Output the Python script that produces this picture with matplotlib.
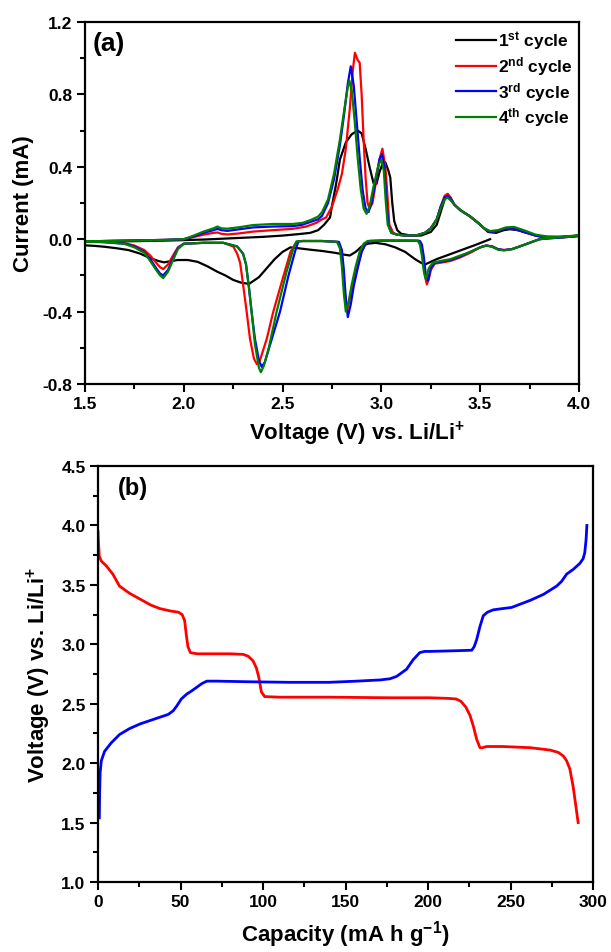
import matplotlib
matplotlib.use("Agg")
import matplotlib.pyplot as plt
from matplotlib.ticker import MultipleLocator

plt.rcParams.update({
    "font.family": ["Liberation Sans", "DejaVu Sans"],
    "font.weight": "bold",
    "axes.labelweight": "bold",
    "axes.unicode_minus": False,
    "mathtext.fontset": "custom",
    "mathtext.rm": "Liberation Sans:bold",
    "mathtext.it": "Liberation Sans:bold",
    "mathtext.bf": "Liberation Sans:bold",
    "mathtext.default": "rm",
})

# ---------------- cyclic voltammetry (panel a) ----------------
# cycle 1: starts at open-circuit, sweeps down to 1.5 V, then up to 4.0 V
c1_v = [3.55, 3.48, 3.43, 3.38, 3.33, 3.28, 3.24, 3.22, 3.20, 3.17, 3.12, 3.07, 3.02, 2.97,
        2.93, 2.90, 2.87, 2.84, 2.81, 2.77, 2.70, 2.64, 2.58, 2.54, 2.50, 2.46, 2.42, 2.38,
        2.33, 2.29, 2.25, 2.21, 2.17, 2.12, 2.07, 2.02, 1.97, 1.93, 1.90, 1.87, 1.83, 1.78,
        1.72, 1.66, 1.60, 1.55, 1.50,
        1.50, 1.60, 1.70, 1.80, 1.90, 2.00, 2.10, 2.20, 2.30, 2.40, 2.50, 2.58, 2.64, 2.68,
        2.71, 2.74, 2.75, 2.77, 2.79, 2.82, 2.85, 2.88, 2.90, 2.92, 2.94, 2.96, 2.975, 2.99,
        3.005, 3.02, 3.035, 3.045, 3.055, 3.065, 3.08, 3.10, 3.15, 3.20, 3.25, 3.28, 3.30,
        3.32, 3.335, 3.35, 3.37, 3.40, 3.45, 3.50, 3.54, 3.58, 3.62, 3.65, 3.69, 3.74, 3.80,
        3.86, 3.92, 4.00]
c1_i = [0.0, -0.03, -0.05, -0.07, -0.09, -0.11, -0.13, -0.14, -0.13, -0.11, -0.07, -0.045,
        -0.028, -0.02, -0.025, -0.04, -0.07, -0.09, -0.085, -0.076, -0.065, -0.058, -0.05,
        -0.045, -0.07, -0.11, -0.16, -0.21, -0.247, -0.24, -0.225, -0.2, -0.18, -0.15, -0.125,
        -0.115, -0.115, -0.122, -0.128, -0.12, -0.105, -0.08, -0.06, -0.05, -0.042, -0.037,
        -0.034,
        -0.015, -0.013, -0.012, -0.01, -0.008, -0.005, -0.002, 0.003, 0.008, 0.013, 0.02,
        0.028, 0.035, 0.05, 0.08, 0.12, 0.185, 0.30, 0.44, 0.535, 0.58, 0.60, 0.585, 0.50,
        0.40, 0.31, 0.305, 0.37, 0.415, 0.425, 0.38, 0.34, 0.20, 0.10, 0.05, 0.03, 0.02, 0.02,
        0.04, 0.08, 0.15, 0.22, 0.25, 0.23, 0.19, 0.16, 0.125, 0.08, 0.04, 0.035, 0.05, 0.055,
        0.05, 0.035, 0.015, 0.01, 0.012, 0.018]

# cycle 2: anodic sweep 1.5 -> 4.0 V, then cathodic 4.0 -> 1.5 V
c2_v = [1.50, 1.60, 1.70, 1.80, 1.90, 2.00, 2.05, 2.10, 2.15, 2.17, 2.19, 2.22, 2.28, 2.35,
        2.45, 2.55, 2.62, 2.67, 2.70, 2.72, 2.75, 2.78, 2.80, 2.82, 2.84, 2.855, 2.866, 2.88,
        2.89, 2.90, 2.91, 2.92, 2.93, 2.94, 2.955, 2.97, 2.99, 3.005, 3.02, 3.03, 3.04, 3.06,
        3.08, 3.12, 3.18, 3.22, 3.25, 3.28, 3.30, 3.32, 3.335, 3.35, 3.37, 3.40, 3.45, 3.49,
        3.52, 3.55, 3.59, 3.63, 3.67, 3.72, 3.78, 3.84, 3.90, 3.95, 4.00,
        4.00, 3.92, 3.85, 3.80, 3.75, 3.70, 3.66, 3.62, 3.59, 3.56, 3.53, 3.50, 3.45, 3.40,
        3.35, 3.30, 3.27, 3.25, 3.24, 3.23, 3.22, 3.21, 3.20, 3.19, 3.10, 3.00, 2.94, 2.92,
        2.90, 2.88, 2.86, 2.84, 2.827, 2.815, 2.805, 2.795, 2.78, 2.70, 2.60, 2.575, 2.563,
        2.54, 2.50, 2.453, 2.42, 2.385, 2.37, 2.355, 2.335, 2.318, 2.30, 2.285, 2.27, 2.25,
        2.20, 2.10, 2.00, 1.97, 1.94, 1.92, 1.896, 1.88, 1.86, 1.83, 1.80, 1.75, 1.70, 1.60,
        1.50]
c2_i = [-0.012, -0.01, -0.008, -0.006, -0.004, 0.0, 0.012, 0.025, 0.035, 0.037, 0.03, 0.026,
        0.032, 0.042, 0.05, 0.057, 0.07, 0.09, 0.11, 0.12, 0.18, 0.28, 0.36, 0.50, 0.72, 0.93,
        1.03, 0.99, 0.975, 0.80, 0.55, 0.34, 0.20, 0.17, 0.20, 0.30, 0.44, 0.50, 0.40, 0.25,
        0.08, 0.035, 0.025, 0.02, 0.022, 0.035, 0.06, 0.11, 0.18, 0.24, 0.25, 0.225, 0.19,
        0.16, 0.125, 0.09, 0.06, 0.04, 0.045, 0.06, 0.058, 0.04, 0.02, 0.012, 0.012, 0.015,
        0.02,
        0.018, 0.01, 0.005, 0.0, -0.02, -0.04, -0.055, -0.06, -0.055, -0.04, -0.035, -0.045,
        -0.075, -0.1, -0.12, -0.13, -0.135, -0.17, -0.22, -0.25, -0.2, -0.1, -0.03, -0.01,
        -0.008, -0.008, -0.01, -0.025, -0.07, -0.15, -0.24, -0.33, -0.395, -0.3, -0.15, -0.05,
        -0.015, -0.01, -0.01, -0.013, -0.027, -0.07, -0.22, -0.40, -0.55, -0.67, -0.69, -0.66,
        -0.55, -0.40, -0.25, -0.13, -0.08, -0.04, -0.02, -0.02, -0.025, -0.045, -0.1, -0.14,
        -0.165, -0.155, -0.13, -0.09, -0.06, -0.035, -0.022, -0.015, -0.012]

# cycle 3
c3_v = [1.50, 1.70, 1.90, 2.00, 2.05, 2.10, 2.15, 2.17, 2.19, 2.22, 2.28, 2.35, 2.45, 2.55,
        2.60, 2.64, 2.68, 2.70, 2.73, 2.76, 2.79, 2.81, 2.83, 2.845, 2.86, 2.875, 2.89, 2.905,
        2.92, 2.935, 2.95, 2.97, 2.99, 3.003, 3.015, 3.025, 3.035, 3.05, 3.08, 3.12, 3.18,
        3.22, 3.25, 3.28, 3.30, 3.32, 3.335, 3.35, 3.37, 3.40, 3.45, 3.49, 3.52, 3.55, 3.59,
        3.63, 3.67, 3.72, 3.78, 3.84, 3.90, 3.95, 4.00,
        4.00, 3.92, 3.85, 3.80, 3.75, 3.70, 3.66, 3.62, 3.59, 3.56, 3.53, 3.50, 3.45, 3.40,
        3.35, 3.30, 3.27, 3.25, 3.235, 3.225, 3.215, 3.205, 3.195, 3.185, 3.10, 3.00, 2.94,
        2.92, 2.90, 2.88, 2.86, 2.845, 2.83, 2.82, 2.81, 2.80, 2.785, 2.70, 2.60, 2.58, 2.565,
        2.53, 2.487, 2.44, 2.41, 2.394, 2.38, 2.36, 2.343, 2.33, 2.315, 2.30, 2.27, 2.20, 2.10,
        2.00, 1.97, 1.94, 1.92, 1.896, 1.88, 1.86, 1.83, 1.80, 1.75, 1.70, 1.60, 1.50]
c3_i = [-0.012, -0.008, -0.004, 0.0, 0.015, 0.035, 0.05, 0.057, 0.05, 0.046, 0.055, 0.065,
        0.07, 0.072, 0.08, 0.095, 0.11, 0.13, 0.20, 0.33, 0.52, 0.68, 0.86, 0.955, 0.85, 0.65,
        0.45, 0.27, 0.17, 0.15, 0.20, 0.32, 0.44, 0.47, 0.40, 0.22, 0.08, 0.035, 0.025, 0.02,
        0.022, 0.035, 0.06, 0.11, 0.18, 0.23, 0.24, 0.22, 0.19, 0.16, 0.125, 0.09, 0.06, 0.04,
        0.045, 0.06, 0.058, 0.04, 0.02, 0.012, 0.012, 0.015, 0.02,
        0.018, 0.01, 0.005, 0.0, -0.02, -0.04, -0.055, -0.06, -0.055, -0.04, -0.035, -0.045,
        -0.07, -0.095, -0.115, -0.125, -0.13, -0.16, -0.23, -0.2, -0.1, -0.03, -0.01, -0.008,
        -0.008, -0.008, -0.01, -0.025, -0.07, -0.16, -0.26, -0.36, -0.43, -0.33, -0.17, -0.06,
        -0.015, -0.01, -0.01, -0.012, -0.06, -0.2, -0.40, -0.57, -0.68, -0.705, -0.67, -0.55,
        -0.40, -0.27, -0.14, -0.08, -0.04, -0.02, -0.02, -0.025, -0.05, -0.12, -0.17, -0.20,
        -0.19, -0.16, -0.11, -0.07, -0.04, -0.024, -0.016, -0.012]

# cycle 4
c4_v = [1.50, 1.70, 1.90, 2.00, 2.05, 2.10, 2.15, 2.17, 2.19, 2.22, 2.28, 2.35, 2.45, 2.55,
        2.60, 2.64, 2.68, 2.70, 2.73, 2.76, 2.79, 2.81, 2.83, 2.838, 2.85, 2.865, 2.88, 2.895,
        2.91, 2.925, 2.94, 2.96, 2.985, 3.00, 3.012, 3.022, 3.032, 3.05, 3.08, 3.12, 3.18,
        3.22, 3.25, 3.28, 3.30, 3.32, 3.335, 3.35, 3.37, 3.40, 3.45, 3.49, 3.52, 3.55, 3.59,
        3.63, 3.67, 3.72, 3.78, 3.84, 3.90, 3.95, 4.00,
        4.00, 3.92, 3.85, 3.80, 3.75, 3.70, 3.66, 3.62, 3.59, 3.56, 3.53, 3.50, 3.45, 3.40,
        3.35, 3.30, 3.26, 3.24, 3.225, 3.215, 3.205, 3.195, 3.185, 3.175, 3.10, 3.00, 2.93,
        2.91, 2.89, 2.87, 2.85, 2.835, 2.82, 2.81, 2.80, 2.79, 2.775, 2.70, 2.60, 2.57, 2.555,
        2.52, 2.47, 2.43, 2.405, 2.39, 2.38, 2.36, 2.343, 2.33, 2.315, 2.30, 2.27, 2.20, 2.10,
        2.00, 1.97, 1.94, 1.92, 1.896, 1.88, 1.86, 1.83, 1.80, 1.75, 1.70, 1.60, 1.50]
c4_i = [-0.012, -0.008, -0.004, 0.0, 0.02, 0.042, 0.06, 0.07, 0.06, 0.058, 0.066, 0.078,
        0.084, 0.084, 0.09, 0.105, 0.125, 0.15, 0.22, 0.36, 0.55, 0.70, 0.84, 0.876, 0.82,
        0.65, 0.45, 0.28, 0.17, 0.14, 0.18, 0.29, 0.41, 0.44, 0.38, 0.21, 0.08, 0.035, 0.025,
        0.02, 0.022, 0.035, 0.06, 0.11, 0.17, 0.22, 0.23, 0.215, 0.19, 0.16, 0.125, 0.09, 0.06,
        0.045, 0.05, 0.065, 0.068, 0.05, 0.025, 0.015, 0.014, 0.017, 0.022,
        0.02, 0.012, 0.006, 0.0, -0.02, -0.04, -0.055, -0.062, -0.058, -0.042, -0.035, -0.045,
        -0.07, -0.09, -0.11, -0.12, -0.13, -0.16, -0.22, -0.18, -0.09, -0.03, -0.01, -0.008,
        -0.008, -0.008, -0.01, -0.025, -0.07, -0.15, -0.25, -0.34, -0.40, -0.30, -0.15, -0.05,
        -0.015, -0.01, -0.01, -0.012, -0.05, -0.18, -0.40, -0.60, -0.70, -0.735, -0.71, -0.58,
        -0.40, -0.27, -0.14, -0.08, -0.04, -0.02, -0.02, -0.025, -0.055, -0.13, -0.18, -0.215,
        -0.2, -0.17, -0.12, -0.075, -0.045, -0.026, -0.017, -0.013]

cycle_labels = ["1$^{st}$ cycle", "2$^{nd}$ cycle", "3$^{rd}$ cycle", "4$^{th}$ cycle"]
cycle_colors = ["#000000", "#ff0000", "#0000ff", "#008000"]

# ---------------- charge / discharge profile (panel b) ----------------
discharge_cap = [0, 0.3, 0.8, 2, 5, 9, 13, 19, 25.5, 32, 37.6, 44, 48.7, 51, 52.5, 53.5, 54.5,
                 56, 60, 70, 80, 88, 91, 94, 96, 97.5, 99, 101, 110, 140, 177, 201, 212, 217,
                 220, 223, 225.5, 227.5, 229.5, 231.5, 233, 235.5, 245, 262, 274, 279, 282,
                 284, 286, 288, 290, 291]
discharge_v = [3.95, 3.85, 3.74, 3.70, 3.66, 3.59, 3.49, 3.43, 3.38, 3.33, 3.30, 3.28, 3.27,
               3.25, 3.20, 3.08, 2.98, 2.93, 2.92, 2.92, 2.92, 2.915, 2.90, 2.86, 2.80, 2.72,
               2.60, 2.56, 2.555, 2.555, 2.55, 2.55, 2.545, 2.54, 2.52, 2.47, 2.40, 2.31, 2.20,
               2.13, 2.13, 2.14, 2.14, 2.13, 2.11, 2.09, 2.06, 2.02, 1.95, 1.80, 1.60, 1.50]
charge_cap = [0.8, 1.0, 1.3, 2, 4, 8, 13, 19, 25.5, 34, 42.6, 45.5, 47.7, 50.5, 53.7, 57, 60,
              63, 66, 72, 90, 116, 140, 157, 171, 177, 181, 184, 187, 191, 195, 198, 201, 215,
              226.5, 228, 229.5, 231.5, 233.5, 236, 239.6, 245, 250.7, 262, 270, 278, 281, 284,
              288, 292, 294, 295, 295.8, 296.3]
charge_v = [1.54, 1.75, 1.92, 2.02, 2.10, 2.17, 2.24, 2.29, 2.33, 2.37, 2.41, 2.44, 2.48,
            2.54, 2.58, 2.61, 2.64, 2.67, 2.69, 2.69, 2.685, 2.68, 2.68, 2.69, 2.70, 2.71,
            2.73, 2.76, 2.79, 2.87, 2.93, 2.94, 2.94, 2.945, 2.95, 2.98, 3.04, 3.15, 3.24,
            3.27, 3.29, 3.30, 3.31, 3.37, 3.42, 3.49, 3.53, 3.59, 3.63, 3.68, 3.72, 3.77,
            3.88, 4.00]

fig = plt.figure(figsize=(6.11, 9.53), dpi=100)
ax1 = fig.add_axes([85 / 611, 1 - 385 / 953, 494 / 611, 362 / 953])
ax2 = fig.add_axes([98 / 611, 1 - 883 / 953, 495 / 611, 416 / 953])

cycles = [(c1_v, c1_i), (c2_v, c2_i), (c3_v, c3_i), (c4_v, c4_i)]
for (v, i), lab, col in zip(cycles, cycle_labels, cycle_colors):
    ax1.plot(v, i, color=col, lw=1.6, label=lab)

ax1.set_xlim(1.5, 4.0)
ax1.set_ylim(-0.8, 1.2)
ax1.xaxis.set_major_locator(MultipleLocator(0.5))
ax1.xaxis.set_minor_locator(MultipleLocator(0.25))
ax1.yaxis.set_major_locator(MultipleLocator(0.4))
ax1.yaxis.set_minor_locator(MultipleLocator(0.2))
ax1.set_xlabel("Voltage (V) vs. Li/Li$^{+}$", fontsize=16)
ax1.xaxis.set_label_coords(0.55, -0.095)
ax1.set_ylabel("Current (mA)", fontsize=16, labelpad=6)
ax1.text(0.016, 0.975, "(a)", transform=ax1.transAxes, fontsize=19, fontweight="bold",
         va="top", ha="left")
ax1.legend(loc="upper right", bbox_to_anchor=(0.995, 0.99), frameon=False,
           fontsize=12.5, handlelength=2.3, handletextpad=0.15, labelspacing=0.15,
           borderaxespad=0.0, borderpad=0.2)

ax2.plot(discharge_cap, discharge_v, color="#ff0000", lw=2.0)
ax2.plot(charge_cap, charge_v, color="#0000ff", lw=2.0)
ax2.set_xlim(0, 300)
ax2.set_ylim(1.0, 4.5)
ax2.xaxis.set_major_locator(MultipleLocator(50))
ax2.xaxis.set_minor_locator(MultipleLocator(25))
ax2.yaxis.set_major_locator(MultipleLocator(0.5))
ax2.yaxis.set_minor_locator(MultipleLocator(0.25))
ax2.set_xlabel("Capacity (mA h g$^{-1}$)", fontsize=16, labelpad=6)
ax2.set_ylabel("Voltage (V) vs. Li/Li$^{+}$", fontsize=16, labelpad=6)
ax2.text(0.04, 0.975, "(b)", transform=ax2.transAxes, fontsize=17, fontweight="bold",
         va="top", ha="left")

for ax in (ax1, ax2):
    for sp in ax.spines.values():
        sp.set_linewidth(1.6)
    ax.tick_params(which="both", direction="out", width=1.5, labelsize=12.5,
                   top=False, right=False)
    ax.tick_params(which="major", length=5.5)
    ax.tick_params(which="minor", length=3.5)

fig.savefig("out.png", dpi=100)
